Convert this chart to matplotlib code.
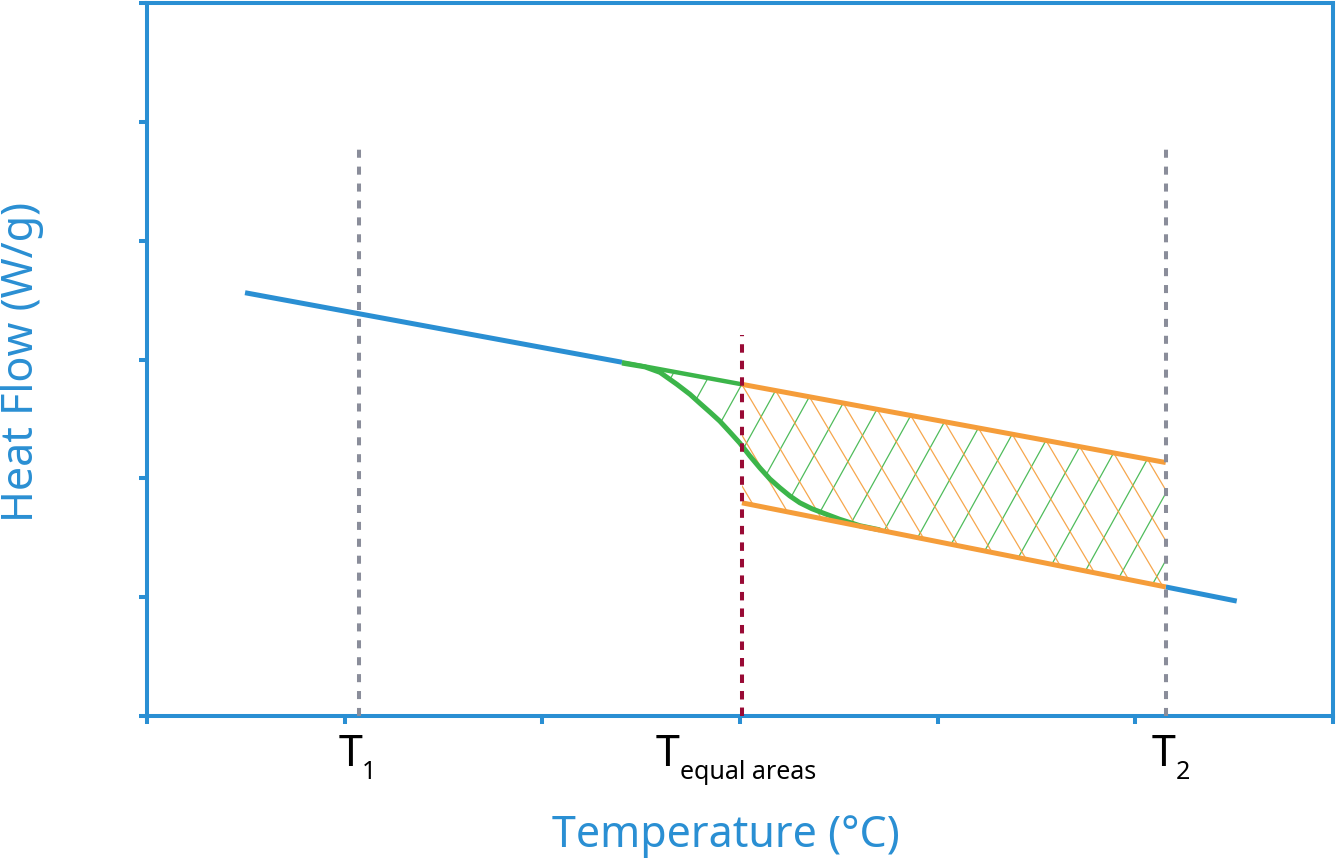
import matplotlib.pyplot as plt
import numpy as np
from matplotlib.collections import LineCollection
from matplotlib.patches import Polygon

plt.rcParams['font.family'] = ['Noto Sans', 'DejaVu Sans']

# couleurs
BLUE = '#2a8fd3'
GREEN = '#3cb54a'
ORANGE = '#f59d3a'
MAROON = '#990a35'
GREY = '#8a8d9a'

# lignes de base (avant / apres transition)
pre_x = [0.496, 2.403]
pre_y = [3.562, 2.977]
post_x = [5.154, 5.513]
post_y = [1.086, 0.967]
green_base_x = [2.403, 3.010]
green_base_y = [2.977, 2.791]
upper_x = [3.010, 5.154]
upper_y = [2.791, 2.133]
lower_x = [3.010, 5.154]
lower_y = [1.794, 1.086]

# courbe de transition
curve_x = [2.403, 2.519, 2.595, 2.681, 2.747, 2.797, 2.848, 2.898, 2.949, 2.999, 3.050,
           3.101, 3.151, 3.202, 3.252, 3.303, 3.364, 3.430, 3.505, 3.607, 3.708]
curve_y = [2.970, 2.938, 2.892, 2.791, 2.707, 2.632, 2.557, 2.481, 2.389, 2.297, 2.188,
           2.087, 1.995, 1.920, 1.852, 1.794, 1.744, 1.702, 1.655, 1.601, 1.566]

# lignes verticales
t1_x, t1_top = 1.072, 4.80
teq_x, teq_top = 3.010, 3.21
t2_x, t2_top = 5.154, 4.80

# etiquettes de l'axe x
label_x = [1.088, 2.696, 5.205]
label_sub = ['1', 'equal areas', '2']

fig = plt.figure(figsize=(13.36, 8.61), dpi=100)
ax = fig.add_axes([147 / 1336, 145 / 861, 1186 / 1336, 713 / 861])
ax.set_xlim(0, 6)
ax.set_ylim(0, 6)

# hachures
up_slope = (upper_y[1] - upper_y[0]) / (upper_x[1] - upper_x[0])
anchors = 4.206 + 0.171 * np.arange(-25, 25)
anchor_y = upper_y[0] + up_slope * (anchors - upper_x[0])

green_poly = Polygon(list(zip(curve_x, curve_y)) + [(lower_x[1], lower_y[1]), (upper_x[1], upper_y[1]),
                                                    (upper_x[0], upper_y[0])],
                     closed=True, fill=False, lw=0, transform=ax.transData)
orange_poly = Polygon([(upper_x[0], upper_y[0]), (upper_x[1], upper_y[1]),
                       (lower_x[1], lower_y[1]), (lower_x[0], lower_y[0])],
                      closed=True, fill=False, lw=0, transform=ax.transData)
ax.add_patch(green_poly)
ax.add_patch(orange_poly)

gs, os_ = 3.0, -2.8
green_segs = [[(a - 1, b - gs), (a + 1, b + gs)] for a, b in zip(anchors, anchor_y)]
orange_segs = [[(a - 1, b - os_), (a + 1, b + os_)] for a, b in zip(anchors, anchor_y)]
lc_g = LineCollection(green_segs, colors=GREEN, linewidths=0.9, alpha=0.9, zorder=1)
lc_o = LineCollection(orange_segs, colors=ORANGE, linewidths=0.9, alpha=0.9, zorder=1)
ax.add_collection(lc_g)
ax.add_collection(lc_o)
lc_g.set_clip_path(green_poly)
lc_o.set_clip_path(orange_poly)

# courbes
ax.plot(pre_x, pre_y, color=BLUE, lw=3.6, solid_capstyle='butt', zorder=3)
ax.plot(post_x, post_y, color=BLUE, lw=3.6, solid_capstyle='butt', zorder=3)
ax.plot(green_base_x, green_base_y, color=GREEN, lw=3.2, solid_capstyle='butt', zorder=3)
ax.plot(curve_x, curve_y, color=GREEN, lw=3.6, solid_capstyle='butt', zorder=3)
ax.plot(upper_x, upper_y, color=ORANGE, lw=3.6, solid_capstyle='butt', zorder=4)
ax.plot(lower_x, lower_y, color=ORANGE, lw=3.6, solid_capstyle='butt', zorder=4)

# lignes pointillees
ax.plot([t1_x, t1_x], [0, t1_top], color=GREY, lw=2.9, ls=(0, (2, 2.2)), zorder=5)
ax.plot([t2_x, t2_x], [0, t2_top], color=GREY, lw=2.9, ls=(0, (2, 2.2)), zorder=5)
ax.plot([teq_x, teq_x], [0, teq_top], color=MAROON, lw=2.9, ls=(0, (2.1, 2.0)), zorder=5)

# axes
for s in ax.spines.values():
    s.set_color(BLUE)
    s.set_linewidth(2.9)
ax.set_xticks(range(7))
ax.set_yticks(range(7))
ax.set_xticklabels([])
ax.set_yticklabels([])
ax.tick_params(direction='out', length=6, width=2.9, color=BLUE)

tr = ax.get_xaxis_transform()
for x, sub in zip(label_x, label_sub):
    ax.text(x, -50 / 713, 'T', ha='right', va='baseline', fontsize=31, transform=tr)
    ax.text(x, -63 / 713, sub, ha='left', va='baseline', fontsize=18, transform=tr)

fig.text(726 / 1336, 1 - 847 / 861, 'Temperature (°C)', color=BLUE, fontsize=31,
         ha='center', va='baseline')
fig.text(33 / 1336, 1 - 362 / 861, 'Heat Flow (W/g)', color=BLUE, fontsize=31,
         ha='center', va='baseline', rotation=90, rotation_mode='anchor')

fig.savefig('out.png', dpi=100)
